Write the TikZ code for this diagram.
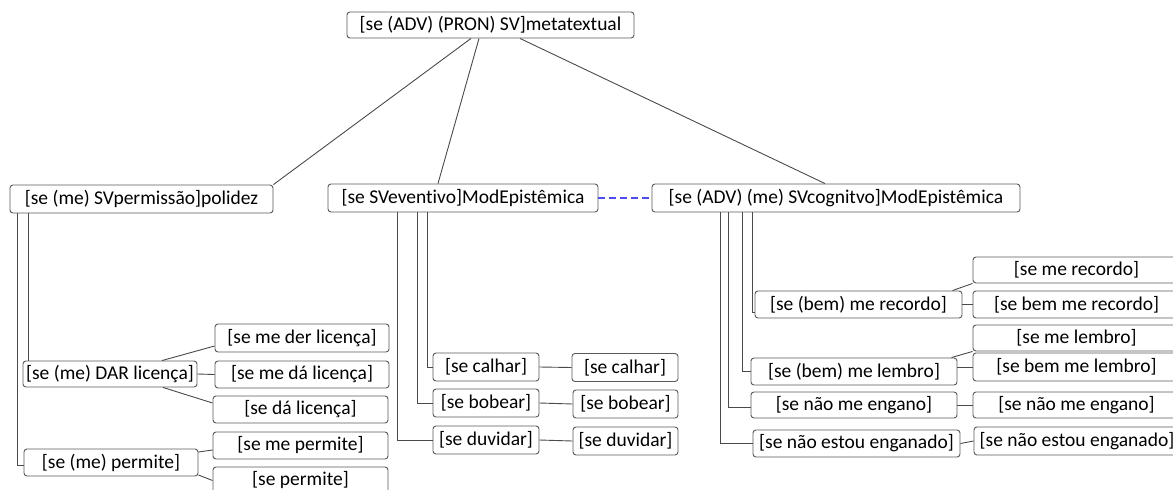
\documentclass[tikz,border=0pt]{standalone}
\usepackage{fontspec}
\setmainfont{Carlito}[Ligatures=NoCommon]
\definecolor{boxgray}{HTML}{5A5A5A}
\definecolor{linegray}{HTML}{4A4A4A}
\definecolor{dashblue}{HTML}{4B4BF0}
\tikzset{
  box/.style={draw=boxgray, line width=0.9pt, rounded corners=3pt, inner sep=0pt,
    text=black, font=\fontsize{19.5}{22}\selectfont, fill=white},
  conn/.style={draw=linegray, line width=0.9pt},
  dashlink/.style={draw=dashblue, line width=1.3pt, dash pattern=on 7pt off 4pt}
}
\begin{document}
\begin{tikzpicture}[x=1pt,y=-1pt]
\useasboundingbox (0,0) rectangle (1173,490);
\clip (0,0) rectangle (1173,490);
% level 0
\node[box,minimum width=287pt,minimum height=26pt] (top) at (490.5,25) {[se (ADV) (PRON) SV]metatextual};
% level 1
\node[box,minimum width=263pt,minimum height=28pt] (pol) at (141.5,199) {[se (me) SVpermissão]polidez};
\node[box,minimum width=270pt,minimum height=28pt] (evt) at (463,198) {[se SVeventivo]ModEpistêmica};
\node[box,minimum width=368pt,minimum height=28pt] (cog) at (836,198) {[se (ADV) (me) SVcognitvo]ModEpistêmica};
% polidez branch
\node[box,minimum width=174pt,minimum height=26pt] (dar) at (110,374) {[se (me) DAR licença]};
\node[box,minimum width=174pt,minimum height=27pt] (perm) at (111,462.5) {[se (me) permite]};
\node[box,minimum width=174pt,minimum height=28pt] (der) at (302,338) {[se me der licença]};
\node[box,minimum width=174pt,minimum height=27pt] (da) at (302,374.5) {[se me dá licença]};
\node[box,minimum width=175pt,minimum height=27pt] (sda) at (300.5,409.5) {[se dá licença]};
\node[box,minimum width=175pt,minimum height=27pt] (meperm) at (300.5,445.5) {[se me permite]};
\node[box,minimum width=175pt,minimum height=27pt] (sperm) at (300.5,480.5) {[se permite]};
% eventivo branch
\node[box,minimum width=106pt,minimum height=28pt] (calhar) at (486,367) {[se calhar]};
\node[box,minimum width=106pt,minimum height=28pt] (bobear) at (486,403) {[se bobear]};
\node[box,minimum width=106pt,minimum height=28pt] (duvidar) at (486,440) {[se duvidar]};
\node[box,minimum width=106pt,minimum height=28pt] (calhar2) at (625,367.5) {[se calhar]};
\node[box,minimum width=105pt,minimum height=28pt] (bobear2) at (625.5,404) {[se bobear]};
\node[box,minimum width=105pt,minimum height=28pt] (duvidar2) at (625.5,441) {[se duvidar]};
% cognitivo branch
\node[box,minimum width=207pt,minimum height=27pt] (recordo) at (858.5,304.5) {[se (bem) me recordo]};
\node[box,minimum width=206pt,minimum height=27pt] (lembro) at (854,371.5) {[se (bem) me lembro]};
\node[box,minimum width=206pt,minimum height=26pt] (engano) at (854,405) {[se não me engano]};
\node[box,minimum width=207pt,minimum height=27pt] (enganado) at (856.5,443.5) {[se não estou enganado]};
\node[box,minimum width=207pt,minimum height=26pt] (merecordo) at (1076.5,270) {[se me recordo]};
\node[box,minimum width=207pt,minimum height=27pt] (bemrecordo) at (1076.5,304.5) {[se bem me recordo]};
\node[box,minimum width=207pt,minimum height=26pt] (melembro) at (1076.5,338) {[se me lembro]};
\node[box,minimum width=207pt,minimum height=28pt] (bemlembro) at (1076.5,367) {[se bem me lembro]};
\node[box,minimum width=207pt,minimum height=26pt] (engano2) at (1076.5,405) {[se não me engano]};
\node[box,minimum width=206pt,minimum height=28pt] (enganado2) at (1077,441) {[se não estou enganado]};
% connectors level 0 -> 1
\draw[conn] ([xshift=-19.5pt]top.south) -- (pol.north east);
\draw[conn] ([xshift=-11.5pt]top.south) -- ([xshift=-25pt]evt.north);
\draw[conn] ([xshift=29.5pt]top.south) -- ([xshift=-11pt]cog.north);
\draw[dashlink] (evt.east) -- (cog.west);
% polidez
\draw[conn] ([xshift=19pt]pol.south west) -- ([xshift=19pt]pol.south west |- dar.north);
\draw[conn] ([xshift=8pt]pol.south west) |- ([yshift=-2.5pt]perm.west);
\draw[conn] ([xshift=52pt]dar.north) -- ([yshift=-8pt]der.west);
\draw[conn] (dar.east) -- (da.west);
\draw[conn] ([xshift=53pt]dar.south) -- ([yshift=6.5pt]sda.west);
\draw[conn] ([yshift=10.5pt]perm.east) -- ([yshift=-4.5pt]meperm.west);
\draw[conn] ([yshift=-12.5pt]perm.east) -- (sperm.west);
% eventivo
\draw[conn] ([xshift=-36pt]evt.south) |- (calhar.west);
\draw[conn] ([xshift=-46pt]evt.south) |- (bobear.west);
\draw[conn] ([xshift=-66pt]evt.south) |- (duvidar.west);
\draw[conn] (calhar.east) -- (calhar2.west);
\draw[conn] (bobear.east) -- (bobear2.west);
\draw[conn] (duvidar.east) -- (duvidar2.west);
% cognitivo
\draw[conn] ([xshift=-84pt]cog.south) |- ([yshift=-7.5pt]recordo.west);
\draw[conn] ([xshift=-94pt]cog.south) |- (lembro.west);
\draw[conn] ([xshift=-108pt]cog.south) |- ([yshift=-2pt]engano.west);
\draw[conn] ([xshift=-116pt]cog.south) |- (enganado.west);
\draw[conn] ([xshift=-10pt]recordo.north east) -- (merecordo.south west);
\draw[conn] (recordo.east) -- (bemrecordo.west);
\draw[conn] ([xshift=-6pt]lembro.north east) -- (melembro.south west);
\draw[conn] ([yshift=4.5pt]lembro.east) -- (bemlembro.west);
\draw[conn] (engano.east) -- (engano2.west);
\draw[conn] (enganado.east) -- (enganado2.west);
\end{tikzpicture}
\end{document}
